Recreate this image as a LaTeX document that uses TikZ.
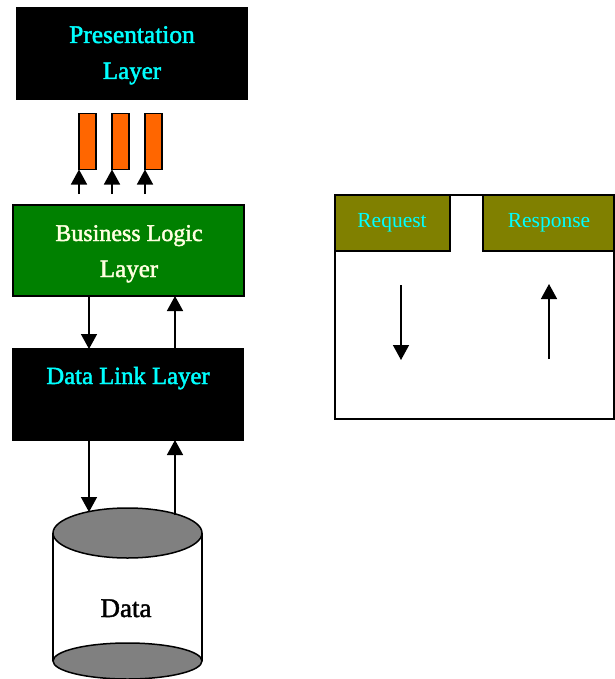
\documentclass[tikz,border=0pt]{standalone}
\usepackage{fontspec}
\setmainfont{Liberation Serif}
\newcommand{\heavytext}[1]{\special{pdf:code 2 Tr 0.45 w}#1\special{pdf:code 0 Tr}}
\usetikzlibrary{arrows.meta,shapes.geometric}
\definecolor{olive0}{HTML}{808000}
\definecolor{orange0}{HTML}{FF6600}
\definecolor{green0}{HTML}{008000}
\definecolor{gray0}{HTML}{808080}
\definecolor{cream0}{HTML}{FFFFE0}
\definecolor{cyan0}{RGB}{0,255,255}
\tikzset{
  every node/.style={outer sep=0pt},
  layerbox/.style={draw=black,line width=1.5pt,minimum width=#1,minimum height=91pt,inner sep=0pt,anchor=north west},
  tabbox/.style={draw=black,line width=1.5pt,fill=olive0,inner sep=0pt,anchor=north west,minimum height=56pt},
  barbox/.style={draw=black,line width=1.5pt,fill=orange0,minimum width=17pt,minimum height=56pt,inner sep=0pt,anchor=north west},
  arr/.style={draw=black,line width=1.5pt,-{Triangle[width=16pt,length=15pt]}},
  txt/.style={font=\fontsize{#1}{#1}\selectfont,inner sep=0pt,anchor=base},
  smalltxt/.style={font=\fontsize{21.5}{21.5}\selectfont,text=cyan0,inner sep=0pt,anchor=base},
  discbox/.style={ellipse,draw=black,line width=1.5pt,fill=gray0,minimum width=149pt,inner sep=0pt}
}
\begin{document}
\begin{tikzpicture}[x=1pt,y=-1pt]
\useasboundingbox (0,0) rectangle (614,679);
\coordinate (xa) at (89,0);
\coordinate (xb) at (175,0);
\coordinate (ya) at (0,194);
\coordinate (yb) at (0,512);
\coordinate (yc) at (0,515);
\node[layerbox=231pt,fill=black] (pl) at (16.3,7.8) {};
\node[txt=25.4,text=cyan0] (pl1) at (132,43) {\heavytext{Presentation}};
\node[txt=25,text=cyan0] (pl2) at (132,79) {\heavytext{Layer}};
\node[barbox] (b1) at (79,113.5) {};
\node[barbox] (b2) at (112,113.5) {};
\node[barbox] (b3) at (145,113.5) {};
\draw[arr] (b1.south west |- ya) -- (b1.south west);
\draw[arr] (b2.south west |- ya) -- (b2.south west);
\draw[arr] (b3.south west |- ya) -- (b3.south west);
\node[layerbox=231pt,fill=green0] (bl) at (13,205) {};
\node[txt=24,text=cream0] (bl1) at (129,241) {\heavytext{Business Logic}};
\node[txt=25,text=cream0] (bl2) at (129,277) {\heavytext{Layer}};
\node[layerbox=230.5pt,fill=black] (dl) at (12.8,349) {};
\node[txt=24.7,text=cyan0] (dl1) at (128,384) {\heavytext{Data Link Layer}};
\draw[arr] (xa |- bl.south) -- (xa |- dl.north);
\draw[arr] (xb |- dl.north) -- (xb |- bl.south);
\draw[line width=1.5pt] (53,533) -- (53,661) (202,533) -- (202,661);
\node[discbox,minimum height=36pt] (cb) at (127.5,661) {};
\node[discbox,minimum height=50pt] (ct) at (127.5,533) {};
\node[txt=27,text=black] (dt) at (126,617) {\heavytext{Data}};
\draw[arr] (xa |- dl.south) -- (xa |- yb);
\draw[arr] (xb |- yc) -- (xb |- dl.south);
\node[draw=black,line width=1.5pt,minimum width=279pt,minimum height=224pt,inner sep=0pt,anchor=north west] (pn) at (335,195) {};
\node[tabbox,minimum width=115pt] (rq) at (335,195) {};
\node[tabbox,minimum width=131pt] (rs) at (483,195) {};
\node[smalltxt] (rqt) at (392,227) {Request};
\node[smalltxt] (rst) at (549,227) {Response};
\coordinate (s1) at (401,285);
\coordinate (e1) at (401,360);
\coordinate (s2) at (549,359);
\coordinate (e2) at (549,284);
\draw[arr] (s1) -- (e1);
\draw[arr] (s2) -- (e2);
\end{tikzpicture}
\end{document}
